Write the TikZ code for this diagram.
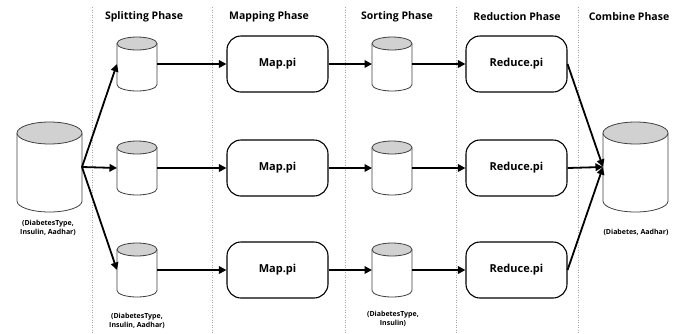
\documentclass[tikz,border=0pt]{standalone}
\usepackage{fontspec}
\setmainfont{Open Sans}
\usetikzlibrary{arrows.meta}
\newcommand{\drum}[3]{%
  \draw[drumline,fill=white] ([yshift=-#3pt]#1.north west) -- ([yshift=#3pt]#1.south west)
    arc[start angle=180,end angle=360,x radius=#2pt,y radius=#3pt] -- ([yshift=-#3pt]#1.north east);
  \draw[drumline,fill=black!18] ([yshift=-#3pt]#1.north) ellipse[x radius=#2pt,y radius=#3pt];}
\begin{document}
\begin{tikzpicture}[x=1pt,y=-1pt,
  drumline/.style={draw=black!75,line width=.8pt},
  cyl/.style={inner sep=0pt,outer sep=0pt,minimum width=40pt,minimum height=54pt},
  bigcyl/.style={cyl,minimum width=65pt,minimum height=90pt},
  proc/.style={draw,rounded corners=14pt,line width=1.1pt,minimum width=101pt,minimum height=56pt,
    font=\bfseries\fontsize{11}{13}\selectfont},
  phase/.style={font=\bfseries\fontsize{10.5}{12}\selectfont},
  lbl/.style={font=\bfseries\fontsize{7}{8.5}\selectfont,align=center},
  arr/.style={-{Triangle[length=7.5pt,width=7.5pt]},line width=1.8pt}]
  \useasboundingbox (0,0) rectangle (689,333);
  \foreach \x in {92,212,345,456,578}
    \draw[black!35,dotted,line width=.5pt] (\x,7) -- (\x,333);
  \node[phase] (split) at (144,17) {Splitting Phase};
  \node[phase] (map) at (269,17) {Mapping Phase};
  \node[phase] (sort) at (397,17) {Sorting Phase};
  \node[phase] (red) at (517,17) {Reduction Phase};
  \node[phase] (comb) at (629,17) {Combine Phase};
  \node[bigcyl] (src) at (49.5,167) {};
  \node[bigcyl] (dst) at (635.5,167) {};
  \drum{src}{32.5}{11}
  \drum{dst}{32.5}{11}
  \node[lbl] (srclbl) at (48,228) {(DiabetesType,\\Insulin, Aadhar)};
  \node[lbl] (dstlbl) at (636,232) {(Diabetes, Aadhar)};
  \foreach \i/\y in {1/64,2/168,3/270} {
    \node[cyl] (s\i) at (137,\y) {};
    \node[proc] (m\i) at (277.5,\y) {Map.pi};
    \node[cyl] (o\i) at (392,\y) {};
    \node[proc] (r\i) at (516.5,\y) {Reduce.pi};
    \drum{s\i}{20}{6.5}
    \drum{o\i}{20}{6.5}
    \draw[arr] (src.east) -- (s\i.west);
    \draw[arr] (s\i) -- (m\i);
    \draw[arr] (m\i) -- (o\i);
    \draw[arr] (o\i) -- (r\i);
    \draw[arr] (r\i.east) -- (dst.west);
  }
  \node[lbl] (splitlbl) at (137,321) {(DiabetesType,\\Insulin, Aadhar)};
  \node[lbl] (sortlbl) at (393,319) {(DiabetesType,\\Insulin)};
\end{tikzpicture}
\end{document}
